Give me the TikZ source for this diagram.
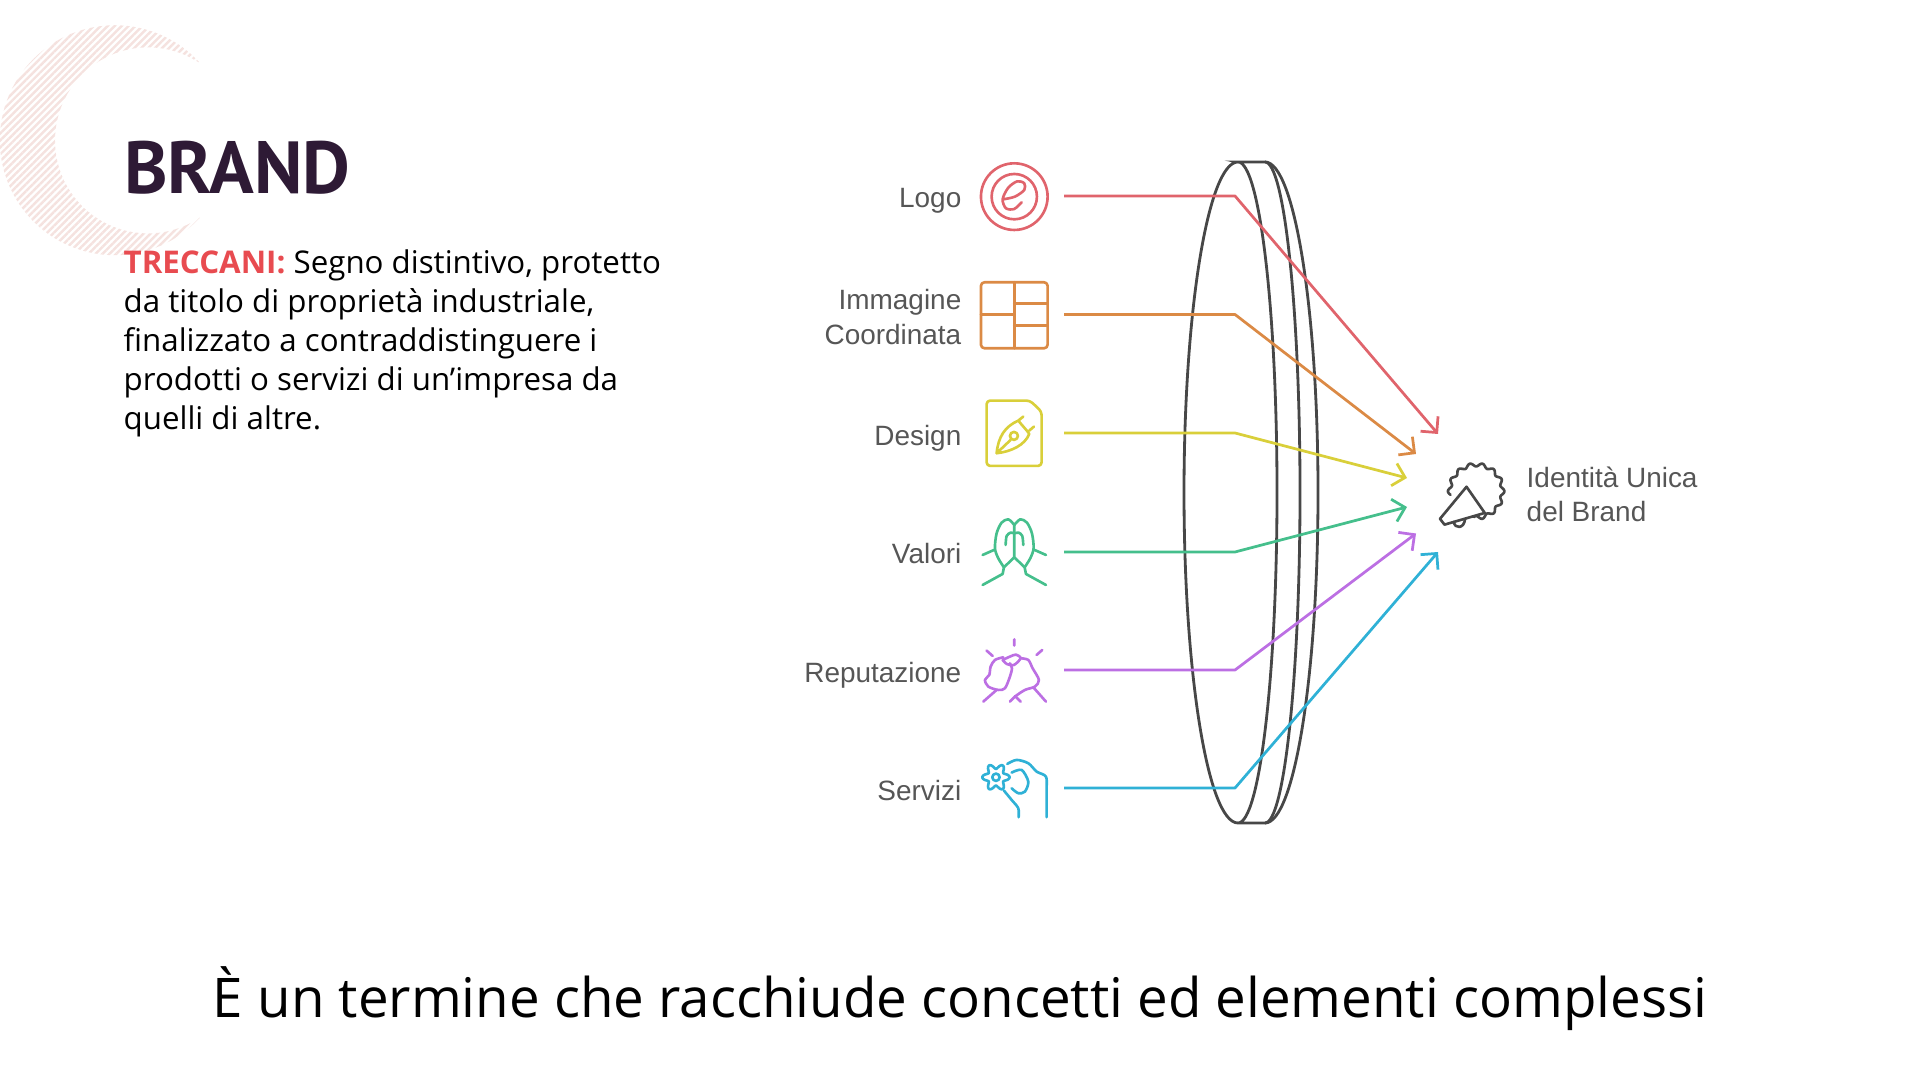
\documentclass[tikz,border=0pt]{standalone}
\usepackage{fontspec}
\setmainfont{Open Sans}
\newfontfamily\titlefont{PT Sans}
\newfontfamily\labelfont{Liberation Sans}
\usetikzlibrary{arrows.meta,patterns.meta}

\definecolor{logoRed}{HTML}{E0646C}
\definecolor{imgOrange}{HTML}{DB8A45}
\definecolor{designYellow}{HTML}{D9CF3A}
\definecolor{valGreen}{HTML}{45BF8C}
\definecolor{repPurple}{HTML}{BC6FE3}
\definecolor{servBlue}{HTML}{2FB1D6}
\definecolor{lensGray}{HTML}{474747}
\definecolor{labelGray}{HTML}{565656}
\definecolor{titlePlum}{HTML}{2E1A35}
\definecolor{trecRed}{HTML}{E84B50}
\definecolor{moonPink}{HTML}{F5E2DF}

\begin{document}
\begin{tikzpicture}[
  conn/.style={line width=0.78pt, line join=round, -{Straight Barb[length=1.15mm,width=2.3mm,line width=0.78pt]}},
  lens/.style={draw=lensGray, line width=0.8pt},
  icon/.style={line width=0.75pt, line cap=round, line join=round},
  lbl/.style={font=\labelfont\fontsize{7.95}{9.7}\selectfont, text=labelGray, inner sep=0pt, align=right, anchor=east},
  crop/.style={x=0.03333mm, y=-0.03333mm}
]
\useasboundingbox (0,0) rectangle (19.2,10.8);

% crescent
\path[pattern={Lines[angle=45,distance=1.4pt,line width=0.7pt]}, pattern color=moonPink]
  (2.0,10.17) arc [start angle=42.2, end angle=317.8, radius=1.15]
  arc [start angle=304, end angle=56, radius=0.93] -- cycle;

% left text
\node[font=\titlefont\bfseries\fontsize{21}{25}\selectfont, text=titlePlum, anchor=base west, inner sep=0pt] (brandTitle) at (1.235,8.86) {BRAND};
\node[font=\fontsize{8.9}{11.1}\selectfont, anchor=north west, inner sep=0pt, align=left] (treccani) at (1.23,8.31)
  {\textcolor{trecRed}{\bfseries TRECCANI:} Segno distintivo, protetto\\
   da titolo di proprietà industriale,\\
   finalizzato a contraddistinguere i\\
   prodotti o servizi di un’impresa da\\
   quelli di altre.};

% bottom line
\node[font=\fontsize{15.55}{18}\selectfont, inner sep=0pt] (bottomLine) at (9.6,0.81) {È un termine che racchiude concetti ed elementi complessi};

% labels
\node[lbl] (logoLabel) at (9.62,8.79) {Logo};
\node[lbl] (immagineLabel) at (9.62,7.63) {Immagine\\Coordinata};
\node[lbl] (designLabel) at (9.62,6.42) {Design};
\node[lbl] (valoriLabel) at (9.62,5.26) {Valori};
\node[lbl] (reputazioneLabel) at (9.62,4.05) {Reputazione};
\node[lbl] (serviziLabel) at (9.62,2.89) {Servizi};
\node[lbl, align=left, anchor=west] (identitaLabel) at (15.26,5.86) {Identità Unica\\del Brand};

% lens
\draw[lens] (12.38,9.18) arc [start angle=90, end angle=270, x radius=0.54, y radius=3.305]
  arc [start angle=-90, end angle=90, x radius=0.39, y radius=3.305] -- (12.65,9.18)
  arc [start angle=90, end angle=-90, x radius=0.35, y radius=3.305] -- (12.38,2.57);
\draw[lens] (12.65,9.18) arc [start angle=90, end angle=-90, x radius=0.53, y radius=3.305];

% connectors
\coordinate (logoStart) at (10.64,8.84);
\coordinate (logoBend) at (12.35,8.84);
\coordinate (logoTip) at (14.38,6.46);
\coordinate (immagineStart) at (10.64,7.655);
\coordinate (immagineBend) at (12.35,7.655);
\coordinate (immagineTip) at (14.16,6.26);
\coordinate (designStart) at (10.64,6.47);
\coordinate (designBend) at (12.35,6.47);
\coordinate (designTip) at (14.07,6.02);
\coordinate (valoriStart) at (10.64,5.28);
\coordinate (valoriBend) at (12.35,5.28);
\coordinate (valoriTip) at (14.07,5.73);
\coordinate (reputazioneStart) at (10.64,4.10);
\coordinate (reputazioneBend) at (12.35,4.10);
\coordinate (reputazioneTip) at (14.16,5.465);
\coordinate (serviziStart) at (10.64,2.92);
\coordinate (serviziBend) at (12.35,2.92);
\coordinate (serviziTip) at (14.38,5.28);
\draw[conn, logoRed] (logoStart) -- (logoBend) -- (logoTip);
\draw[conn, imgOrange] (immagineStart) -- (immagineBend) -- (immagineTip);
\draw[conn, designYellow] (designStart) -- (designBend) -- (designTip);
\draw[conn, valGreen] (valoriStart) -- (valoriBend) -- (valoriTip);
\draw[conn, repPurple] (reputazioneStart) -- (reputazioneBend) -- (reputazioneTip);
\draw[conn, servBlue] (serviziStart) -- (serviziBend) -- (serviziTip);

% icons, upper three
\begin{scope}[shift={(7.8,9.4)}, crop]
  \draw[icon, logoRed] (703,170) circle [radius=100];
  \draw[icon, logoRed] (703,170) circle [radius=68];
  \draw[icon, logoRed] plot[smooth] coordinates {(670,178) (705,170) (733,150) (733,130) (712,124) (685,143) (668,178) (678,205) (703,207) (725,187)};
  \draw[icon, imgOrange, rounded corners=1pt] (603,427) rectangle (803,625);
  \draw[icon, imgOrange] (703,427) -- (703,625) (603,523) -- (703,523) (703,490) -- (803,490) (703,557) -- (803,557);
  \draw[icon, designYellow, rounded corners=1pt] (620,782) -- (750,782) -- (785,815) -- (785,978) -- (620,978) -- cycle;
  \draw[icon, designYellow] (650,940) .. controls (655,890) and (675,860) .. (715,842) .. controls (725,855) and (740,870) .. (748,882) .. controls (735,915) and (695,935) .. (650,940) -- (692,900)
    (715,842) -- (730,830) (748,872) -- (762,860);
  \draw[icon, designYellow] (702,888) circle [radius=12];
\end{scope}

% icons, lower three
\begin{scope}[shift={(7.8,6.0)}, crop]
  \draw[icon, valGreen] plot[smooth] coordinates {(672,262) (655,235) (645,205) (650,160) (665,128) (685,118) (703,135)};
  \draw[icon, valGreen] plot[smooth] coordinates {(734,262) (751,235) (761,205) (756,160) (741,128) (721,118) (703,135)};
  \draw[icon, valGreen] (608,315) -- (668,282) -- (672,262) (798,315) -- (738,282) -- (734,262)
    (608,225) -- (642,210) (798,225) -- (764,210)
    (703,135) -- (703,232) -- (672,262) (703,232) -- (734,262);
  \draw[icon, valGreen] plot[smooth] coordinates {(677,195) (680,168) (692,158) (703,160) (716,158) (727,168) (730,195)};
  % handshake
  \draw[icon, repPurple] (703,478) -- (703,497) (620,512) -- (638,528) (787,510) -- (770,525);
  \draw[icon, repPurple] plot[smooth] coordinates {(670,532) (645,540) (632,560) (628,585) (615,600) (625,620) (655,630) (675,625) (690,590) (696,565) (690,550)};
  \draw[icon, repPurple] plot[smooth] coordinates {(668,540) (690,530) (708,524) (722,535) (702,555) (680,552) (668,540)};
  \draw[icon, repPurple] plot[smooth] coordinates {(722,535) (745,540) (758,565) (777,600) (765,620) (735,630) (705,650) (690,665)};
  \draw[icon, repPurple] (650,630) -- (610,665) (760,622) -- (798,665) (705,648) -- (722,665);
  % hand with gear
  \draw[icon, servBlue] plot[domain=0:360, samples=72, smooth] ({648+(33+8*cos(6*\x))*cos(\x)},{892+(33+8*cos(6*\x))*sin(\x)});
  \draw[icon, servBlue] (648,892) circle [radius=11];
  \draw[icon, servBlue] plot[smooth] coordinates {(682,852) (710,840) (745,850) (770,875) (798,890) (800,930) (800,1012)};
  \draw[icon, servBlue] plot[smooth] coordinates {(695,878) (725,870) (745,905) (735,935) (715,940) (695,925)};
  \draw[icon, servBlue] plot[smooth] coordinates {(672,932) (695,960) (715,985) (716,1012)};
\end{scope}

% megaphone badge
\begin{scope}[shift={(11.8,6.8)}, x=0.03444mm, y=-0.03444mm]
  \draw[icon, lensGray] plot[domain=172:455, samples=160, smooth] ({860+(77+5*cos(14*\x))*cos(\x)},{265+(77+5*cos(14*\x))*sin(\x)});
  \draw[icon, lensGray] (832,252) -- (885,328) -- (768,362) -- (755,345) -- cycle;
  \draw[icon, lensGray] (795,354) .. controls (798,375) and (825,375) .. (828,345);
\end{scope}
\end{tikzpicture}
\end{document}
